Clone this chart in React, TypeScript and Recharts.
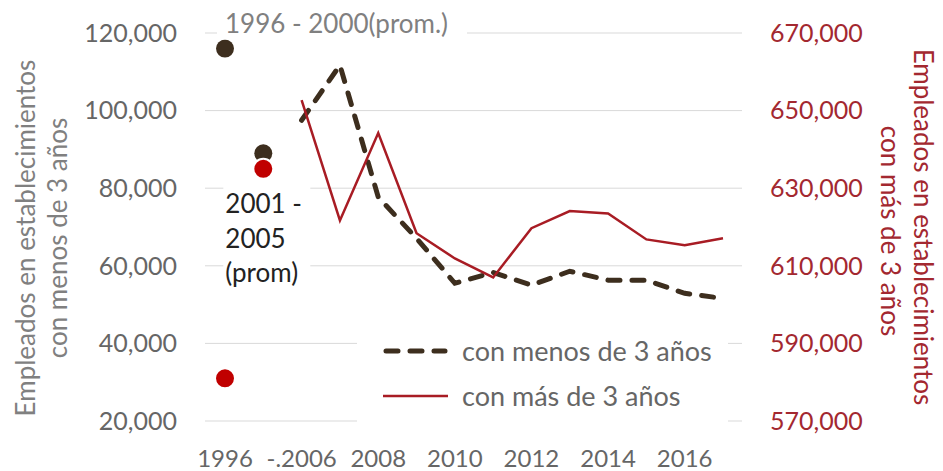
import React from "react";
import { LineChart, Line, XAxis, YAxis, CartesianGrid, Legend, LabelList } from "recharts";

const categories = ["1996 - 2000", "2001 - 2005", "2006", "2007", "2008", "2009", "2010", "2011", "2012", "2013", "2014", "2015", "2016", "2017"];
const tickLabels = ["1996", "", "-.2006", "", "2008", "", "2010", "", "2012", "", "2014", "", "2016", ""];
const menosProm = [116000, 89000, null, null, null, null, null, null, null, null, null, null, null, null];
const masProm = [581000, 635000, null, null, null, null, null, null, null, null, null, null, null, null];
const menos = [null, null, 97500, 111700, 77700, 67100, 55500, 58300, 55000, 58600, 56300, 56300, 52900, 51600];
const mas = [null, null, 652700, 621700, 644200, 618400, 611900, 607000, 619700, 624100, 623500, 616800, 615300, 617100];
const leftTicks = [20000, 40000, 60000, 80000, 100000, 120000];
const rightTicks = [570000, 590000, 610000, 630000, 650000, 670000];
const legendItems = ["con menos de 3 años", "con más de 3 años"];
const promLabels = ["1996 - 2000(prom.)", "2001 -|2005|(prom)"];

const data = categories.map((c, i) => ({
  cat: c,
  tick: tickLabels[i],
  menosProm: menosProm[i],
  masProm: masProm[i],
  menos: menos[i],
  mas: mas[i],
}));

const FONT = "Lato, 'Open Sans', sans-serif";
const DARK = "#3d2e1e";
const RED_LINE = "#a81c24";
const RED_DOT = "#c00000";
const RED_TEXT = "#a32830";
const GRAY = "#666666";
const LIGHT_GRAY = "#808080";

const fmt = (v: number) => String(v).replace(/\B(?=(\d{3})+(?!\d))/g, ",");

const DarkDot = (props: any) => {
  const { cx, cy, value } = props;
  if (value == null || cx == null || cy == null) return null;
  return <circle cx={cx} cy={cy} r={9} fill={DARK} />;
};

const RedDot = (props: any) => {
  const { cx, cy, value } = props;
  if (value == null || cx == null || cy == null) return null;
  return <circle cx={cx} cy={cy} r={10} fill={RED_DOT} stroke="#ffffff" strokeWidth={2} />;
};

const PromLabel = (props: any) => {
  const { x, y, index } = props;
  if (x == null || y == null) return null;
  if (index === 0) {
    return (
      <g>
        <rect x={x - 8} y={y - 39} width={250} height={30} fill="#ffffff" />
        <text x={x} y={y - 16} fill={LIGHT_GRAY} fontSize={26} fontFamily={FONT} textAnchor="start">
          {promLabels[0]}
        </text>
      </g>
    );
  }
  if (index === 1) {
    const lines = promLabels[1].split("|");
    return (
      <g>
        <rect x={x - 40} y={y + 32} width={87} height={110} fill="#ffffff" />
        {lines.map((l, k) => (
          <text key={k} x={x - 38} y={y + 60 + k * 34.5} fill="#222222" fontSize={26} fontFamily={FONT} textAnchor="start">
            {l}
          </text>
        ))}
      </g>
    );
  }
  return null;
};

const LegendContent = () => (
  <div style={{ fontFamily: FONT, fontSize: 27, color: GRAY, paddingLeft: 26 }}>
    {legendItems.map((label, i) => (
      <div key={label} style={{ display: "flex", alignItems: "center", height: 45 }}>
        <svg width={65} height={12} style={{ marginRight: 14, flex: "none" }}>
          {i === 0 ? (
            <line x1={3} y1={6} x2={62} y2={6} stroke={DARK} strokeWidth={5} strokeDasharray="12 12" strokeLinecap="round" />
          ) : (
            <line x1={0} y1={6} x2={65} y2={6} stroke={RED_LINE} strokeWidth={2.5} />
          )}
        </svg>
        <span style={{ whiteSpace: "nowrap", lineHeight: "45px" }}>{label}</span>
      </div>
    ))}
  </div>
);

export default function App() {
  return (
    <div style={{ position: "absolute", left: 0, top: 0, width: 943, height: 471, background: "#ffffff" }}>
      <LineChart width={943} height={471} data={data} margin={{ top: 33, right: 0, bottom: 0, left: 0 }}>
        <CartesianGrid vertical={false} stroke="#d9d9d9" strokeWidth={1} yAxisId="left" />
        <XAxis
          dataKey="cat"
          interval={0}
          height={50}
          padding={{ left: 20, right: 19 }}
          tickLine={false}
          axisLine={false}
          tickMargin={23}
          tickFormatter={(_v: any, i: number) => tickLabels[i]}
          tick={{ fill: GRAY, fontSize: 24, fontFamily: FONT }}
        />
        <YAxis
          yAxisId="left"
          orientation="left"
          width={205}
          domain={[20000, 120000]}
          ticks={leftTicks}
          tickFormatter={fmt}
          tickLine={false}
          axisLine={false}
          tickMargin={22}
          tick={{ fill: GRAY, fontSize: 25, fontFamily: FONT }}
        />
        <YAxis
          yAxisId="right"
          orientation="right"
          width={201}
          domain={[570000, 670000]}
          ticks={rightTicks}
          tickFormatter={fmt}
          tickLine={false}
          axisLine={false}
          tickMargin={22}
          tick={{ fill: RED_TEXT, fontSize: 25, fontFamily: FONT }}
        />
        <Legend
          layout="horizontal"
          verticalAlign="middle"
          align="center"
          content={<LegendContent />}
          wrapperStyle={{ position: "absolute", left: 357, top: 328, width: 371, height: 97, background: "#ffffff", margin: 0 }}
        />
        <Line
          yAxisId="left"
          dataKey="menos"
          name={legendItems[0]}
          stroke={DARK}
          strokeWidth={5}
          strokeDasharray="12 12"
          strokeLinecap="round"
          dot={false}
          activeDot={false}
          isAnimationActive={false}
          connectNulls={false}
        />
        <Line
          yAxisId="right"
          dataKey="mas"
          name={legendItems[1]}
          stroke={RED_LINE}
          strokeWidth={2.5}
          dot={false}
          activeDot={false}
          isAnimationActive={false}
        />
        <Line
          yAxisId="left"
          dataKey="menosProm"
          stroke="none"
          legendType="none"
          dot={<DarkDot />}
          activeDot={false}
          isAnimationActive={false}
        >
          <LabelList dataKey="menosProm" content={<PromLabel />} />
        </Line>
        <Line
          yAxisId="right"
          dataKey="masProm"
          stroke="none"
          legendType="none"
          dot={<RedDot />}
          activeDot={false}
          isAnimationActive={false}
        />
      </LineChart>
      <svg width={943} height={471} style={{ position: "absolute", left: 0, top: 0, pointerEvents: "none" }}>
        <g fontFamily={FONT} fontSize={26} fill={LIGHT_GRAY} textAnchor="middle">
          <text transform="translate(35,238) rotate(-90)">Empleados en establecimientos</text>
          <text transform="translate(67,238) rotate(-90)">con menos de 3 años</text>
        </g>
        <g fontFamily={FONT} fontSize={26} fill={RED_TEXT} textAnchor="middle">
          <text transform="translate(914,227) rotate(90)">Empleados en establecimientos</text>
          <text transform="translate(881,231) rotate(90)">con más de 3 años</text>
        </g>
      </svg>
    </div>
  );
}
